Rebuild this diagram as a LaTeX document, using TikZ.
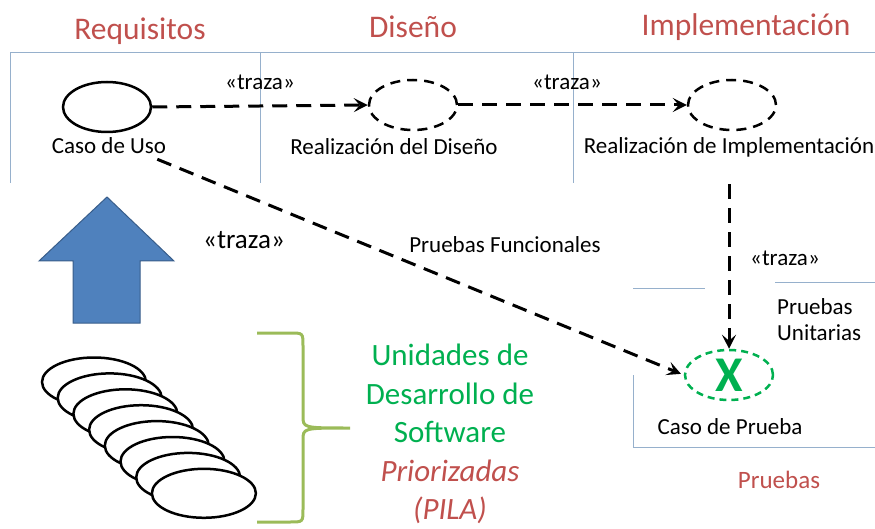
\documentclass[tikz,border=0pt]{standalone}
\usepackage{fontspec}
\setmainfont{Carlito}
\usetikzlibrary{arrows.meta,shapes.geometric}
\definecolor{framec}{RGB}{150,176,204}
\definecolor{titlered}{RGB}{192,80,77}
\definecolor{ugreen}{RGB}{0,176,80}
\definecolor{bracegreen}{RGB}{155,187,89}
\definecolor{bluefill}{RGB}{79,129,189}
\definecolor{blueline}{RGB}{56,93,138}
\tikzset{
  frameline/.style={draw=framec, line width=1pt},
  title/.style={text=titlered, font=\fontsize{31.5}{36}\selectfont, inner sep=0pt},
  lbl/.style={font=\fontsize{23}{26}\selectfont, inner sep=0pt},
  uc/.style={ellipse, minimum width=88pt, minimum height=50pt, inner sep=0pt, line width=2.5pt},
  ucdash/.style={uc, draw, dash pattern=on 10pt off 7pt},
  dep/.style={line width=3pt, dash pattern=on 15pt off 9pt, -{Stealth[length=14pt,width=14pt,inset=6pt]}},
  stackell/.style={draw, fill=white, line width=2.5pt},
}
\begin{document}
\begin{tikzpicture}[x=1pt,y=-1pt]
\useasboundingbox (0,0) rectangle (875,529);
% frame lines
\draw[frameline] (10,183) -- (10,53) -- (875,53);
\draw[frameline] (260,53) -- (260,183);
\draw[frameline] (573,53) -- (573,183);
\draw[frameline] (633,288) -- (705,288);
\draw[frameline] (775,283) -- (875,283);
\draw[frameline] (633,375) -- (633,447) -- (875,447);
% titles
\node[title] (tReq) at (140,31) {Requisitos};
\node[title] (tDis) at (413,27) {Diseño};
\node[title] (tImp) at (746,27) {Implementación};
\node[title, font=\fontsize{25}{28}\selectfont] (tPru) at (779,480) {Pruebas};
% use case ellipses
\node[uc, draw] (cu) at (107,107) {};
\node[ucdash] (rd) at (413,105) {};
\node[ucdash] (ri) at (732,105) {};
\node[uc, draw=ugreen, dash pattern=on 7pt off 5pt, text=ugreen, font=\fontsize{50}{50}\selectfont\bfseries] (cp) at (729,375) {X};
% labels
\node[lbl] (lcu) at (109,146) {Caso de Uso};
\node[lbl] (lrd) at (394,147) {Realización del Diseño};
\node[lbl] (lri) at (729,147) {Realización de Implementación};
\node[lbl] (lcp) at (730,427) {Caso de Prueba};
\node[lbl] (t1) at (260,82) {«traza»};
\node[lbl] (t2) at (567,82) {«traza»};
\node[lbl] (t3) at (785,258) {«traza»};
\node[lbl, font=\fontsize{27}{30}\selectfont] (t4) at (244,240) {«traza»};
\node[lbl] (pf) at (505,245) {Pruebas Funcionales};
\node[lbl, anchor=west, align=left] (pu) at (777,320) {Pruebas\\Unitarias};
% dependencies
\draw[dep] (cu.east) -- (rd.west);
\draw[dep] (rd.east) -- (ri.west);
\draw[dep, shorten <=27pt] (lri.south) -- (cp.north);
\draw[dep, shorten >=3pt] (lcu.south east) ++(-9,5) -- (cp.west);
% blue arrow
\draw[fill=bluefill, draw=blueline, line width=1pt] (73,323) -- (73,261) -- (39,261) -- (107,197) -- (174,261) -- (140,261) -- (140,323) -- cycle;
% stack of ellipses
\foreach \i in {0,...,7}{
  \draw[stackell] ({94+15.7*\i},{382+15.9*\i}) ellipse [x radius=52pt, y radius=24.5pt];
}
% brace
\draw[bracegreen, line width=3pt] (257,333) -- (290,333) .. controls (303,333) .. (303,346) -- (303,416) .. controls (303,428) .. (350,428) .. controls (303,428) .. (303,440) -- (303,509) .. controls (303,522) .. (290,522) -- (257,522);
% text block
\node[align=center, inner sep=0pt, text=ugreen, font=\fontsize{31}{38.5}\selectfont] (ud) at (450,434)
  {Unidades de\\Desarrollo de\\Software\\{\color{titlered}\itshape Priorizadas}\\{\color{titlered}\itshape (PILA)}};
\end{tikzpicture}
\end{document}
